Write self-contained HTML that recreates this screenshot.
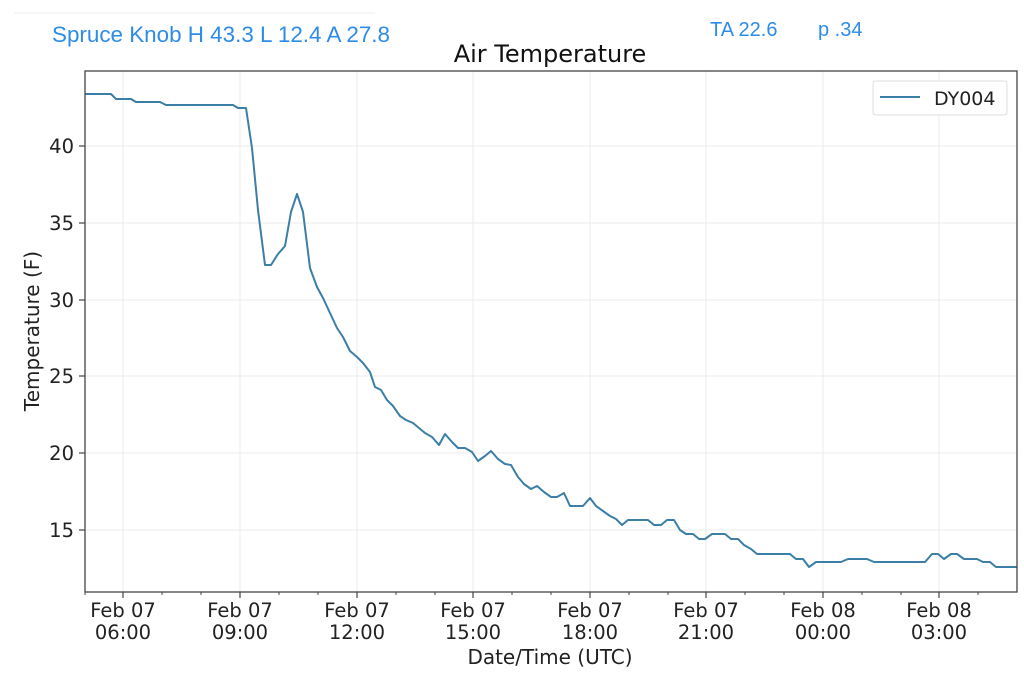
<!DOCTYPE html>
<html><head><meta charset="utf-8"><style>
body{margin:0;background:#fff;width:1024px;height:679px;overflow:hidden;font-family:"DejaVu Sans","Liberation Sans",sans-serif}
</style></head><body>
<svg width="1024" height="679" xmlns="http://www.w3.org/2000/svg" font-family="DejaVu Sans, Liberation Sans, sans-serif">
<line x1="14" y1="13" x2="375" y2="13" stroke="#eee" stroke-width="1"/>
<text x="52" y="42" font-size="22" fill="#2d8ce8" font-family="Liberation Sans, sans-serif" textLength="338" lengthAdjust="spacingAndGlyphs">Spruce Knob H 43.3 L 12.4 A 27.8</text>
<text x="710" y="36" font-size="20" fill="#2d8ce8" font-family="Liberation Sans, sans-serif">TA 22.6</text>
<text x="818" y="36" font-size="20" fill="#2d8ce8" font-family="Liberation Sans, sans-serif">p .34</text>
<text x="550" y="62" font-size="24" fill="#111" text-anchor="middle">Air Temperature</text>
<g stroke="#ebebeb" stroke-width="1">
<line x1="123" y1="71" x2="123" y2="592"/><line x1="240" y1="71" x2="240" y2="592"/><line x1="357" y1="71" x2="357" y2="592"/><line x1="473" y1="71" x2="473" y2="592"/><line x1="590" y1="71" x2="590" y2="592"/><line x1="706" y1="71" x2="706" y2="592"/><line x1="823" y1="71" x2="823" y2="592"/><line x1="939" y1="71" x2="939" y2="592"/>
<line x1="85" y1="146" x2="1017" y2="146"/><line x1="85" y1="223" x2="1017" y2="223"/><line x1="85" y1="300" x2="1017" y2="300"/><line x1="85" y1="376" x2="1017" y2="376"/><line x1="85" y1="453" x2="1017" y2="453"/><line x1="85" y1="530" x2="1017" y2="530"/>
</g>
<polyline fill="none" stroke="#3b7fa6" stroke-width="2" stroke-linejoin="round" points="85,94 111,94 116,99 131,99 136,102 160,102 166,105 233,105 238,108 246,108 252,148 258,210 265,265 271,265 278,254 285,246 291,212 297,194 303,212 310,268 317,287 323,298 330,313 337,328 343,337 350,351 357,357 363,363 370,372 375,387 381,390 387,400 393,406 400,416 406,420 413,423 419,428 425,433 432,437 439,445 445,434 452,442 458,448 465,448 472,452 478,461 485,456 491,451 498,459 505,464 511,465 518,477 524,484 531,489 537,486 544,492 551,497 557,497 564,493 570,506 577,506 583,506 590,498 596,506 603,511 610,516 616,519 622,525 628,520 635,520 641,520 648,520 654,525 661,525 667,520 674,520 680,530 686,534 693,534 699,539 705,539 712,534 719,534 725,534 731,539 738,539 744,545 751,549 757,554 764,554 770,554 777,554 783,554 790,554 796,559 803,559 809,567 816,562 822,562 829,562 835,562 841,562 848,559 854,559 861,559 867,559 874,562 880,562 887,562 893,562 900,562 906,562 913,562 919,562 925,562 932,554 938,554 944,559 951,554 957,554 964,559 970,559 977,559 983,562 990,562 996,567 1003,567 1017,567"/>
<rect x="85" y="71" width="932" height="521" fill="none" stroke="#444" stroke-width="1.3"/>
<g stroke="#444" stroke-width="1.2">
<line x1="79" y1="146" x2="85" y2="146"/><line x1="79" y1="223" x2="85" y2="223"/><line x1="79" y1="300" x2="85" y2="300"/><line x1="79" y1="376" x2="85" y2="376"/><line x1="79" y1="453" x2="85" y2="453"/><line x1="79" y1="530" x2="85" y2="530"/>
<line x1="123" y1="592" x2="123" y2="598"/><line x1="240" y1="592" x2="240" y2="598"/><line x1="357" y1="592" x2="357" y2="598"/><line x1="473" y1="592" x2="473" y2="598"/><line x1="590" y1="592" x2="590" y2="598"/><line x1="706" y1="592" x2="706" y2="598"/><line x1="823" y1="592" x2="823" y2="598"/><line x1="939" y1="592" x2="939" y2="598"/>
</g>
<g stroke="#444" stroke-width="1">
<line x1="85" y1="592" x2="85" y2="595"/><line x1="162" y1="592" x2="162" y2="595"/><line x1="201" y1="592" x2="201" y2="595"/><line x1="279" y1="592" x2="279" y2="595"/><line x1="318" y1="592" x2="318" y2="595"/><line x1="396" y1="592" x2="396" y2="595"/><line x1="435" y1="592" x2="435" y2="595"/><line x1="512" y1="592" x2="512" y2="595"/><line x1="551" y1="592" x2="551" y2="595"/><line x1="629" y1="592" x2="629" y2="595"/><line x1="668" y1="592" x2="668" y2="595"/><line x1="745" y1="592" x2="745" y2="595"/><line x1="784" y1="592" x2="784" y2="595"/><line x1="862" y1="592" x2="862" y2="595"/><line x1="901" y1="592" x2="901" y2="595"/><line x1="978" y1="592" x2="978" y2="595"/>
</g>
<g font-size="19.5" fill="#222" text-anchor="end">
<text x="74" y="153">40</text><text x="74" y="230">35</text><text x="74" y="307">30</text><text x="74" y="383">25</text><text x="74" y="460">20</text><text x="74" y="537">15</text>
</g>
<g font-size="19.5" fill="#222" text-anchor="middle">
<text x="123" y="617">Feb 07</text><text x="123" y="639">06:00</text>
<text x="240" y="617">Feb 07</text><text x="240" y="639">09:00</text>
<text x="357" y="617">Feb 07</text><text x="357" y="639">12:00</text>
<text x="473" y="617">Feb 07</text><text x="473" y="639">15:00</text>
<text x="590" y="617">Feb 07</text><text x="590" y="639">18:00</text>
<text x="706" y="617">Feb 07</text><text x="706" y="639">21:00</text>
<text x="823" y="617">Feb 08</text><text x="823" y="639">00:00</text>
<text x="939" y="617">Feb 08</text><text x="939" y="639">03:00</text>
</g>
<text x="550" y="664" font-size="20" fill="#222" text-anchor="middle">Date/Time (UTC)</text>
<text transform="translate(39,331) rotate(-90)" font-size="20" fill="#222" text-anchor="middle">Temperature (F)</text>
<rect x="873" y="81" width="134" height="34" rx="3" fill="#fff" stroke="#ddd"/>
<line x1="880" y1="97" x2="920" y2="97" stroke="#3b7fa6" stroke-width="2"/>
<text x="934" y="105" font-size="19" fill="#222">DY004</text>
</svg>
</body></html>
